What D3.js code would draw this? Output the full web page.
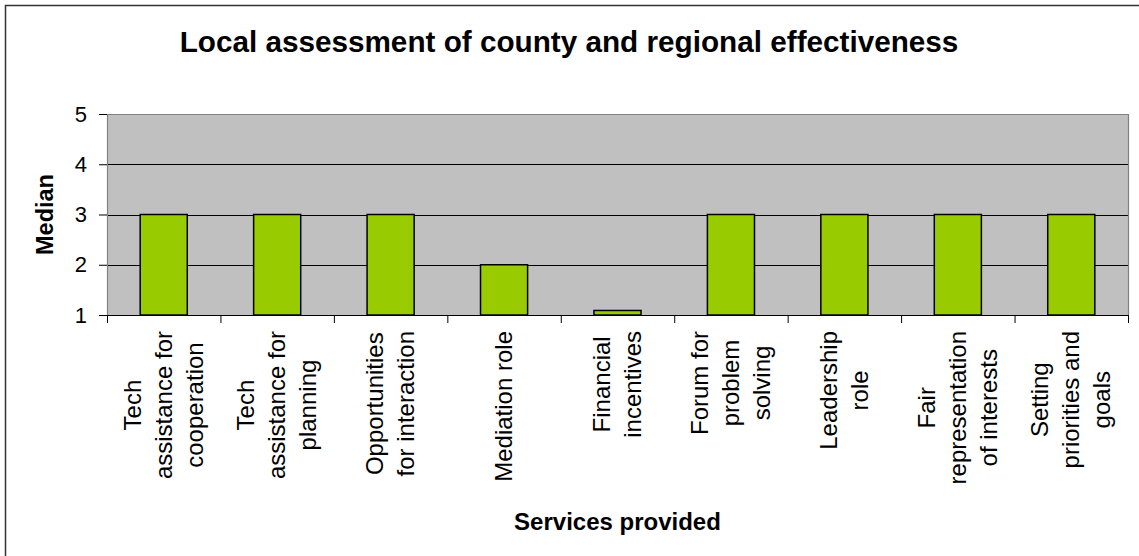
<!DOCTYPE html>
<html>
<head>
<meta charset="utf-8">
<script src="https://cdn.jsdelivr.net/npm/d3@7"></script>
<style>
  html, body { margin: 0; padding: 0; background: #fff; }
  svg { display: block; font-family: "Liberation Sans", Arial, sans-serif; }
</style>
</head>
<body>
<svg id="chart" width="1139" height="556"></svg>
<script>
// Services and their median effectiveness rating
const services = [
  ["Tech", "assistance for", "cooperation"],
  ["Tech", "assistance for", "planning"],
  ["Opportunities", "for interaction"],
  ["Mediation role"],
  ["Financial", "incentives"],
  ["Forum for", "problem", "solving"],
  ["Leadership", "role"],
  ["Fair", "representation", "of interests"],
  ["Setting", "priorities and", "goals"]
];
const medians = [3, 3, 3, 2, 1.09, 3, 3, 3, 3];
const yTicks = [1, 2, 3, 4, 5];

const titleText = "Local assessment of county and regional effectiveness";
const xTitle = "Services provided";
const yTitle = "Median";

const svg = d3.select("#chart");
const plot = { left: 107, right: 1128, top: 114, bottom: 315 };

// outer chart frame
svg.append("rect")
  .attr("x", 5.5).attr("y", 5.5)
  .attr("width", 1200).attr("height", 600)
  .attr("fill", "#fff")
  .attr("stroke", "#333").attr("stroke-width", 1.5);

const x = d3.scaleBand()
  .domain(d3.range(services.length))
  .range([plot.left, plot.right])
  .paddingInner(0.585).paddingOuter(0.2925);

const xBound = d3.scaleLinear()
  .domain([0, services.length])
  .range([plot.left, plot.right]);

const y = d3.scaleLinear().domain([1, 5]).range([plot.bottom, plot.top]);

// plot area background
svg.append("rect")
  .attr("x", plot.left).attr("y", plot.top)
  .attr("width", plot.right - plot.left).attr("height", plot.bottom - plot.top)
  .attr("fill", "#c0c0c0");

// horizontal gridlines
svg.append("g").selectAll("line")
  .data(yTicks.filter(v => v > 1 && v < 5))
  .join("line")
  .attr("x1", plot.left).attr("x2", plot.right)
  .attr("y1", d => Math.round(y(d)) + 0.5).attr("y2", d => Math.round(y(d)) + 0.5)
  .attr("stroke", "#000").attr("stroke-width", 1);

// top and right edges of the plot area
svg.append("path")
  .attr("d", `M${plot.left},${plot.top + 0.5}H${plot.right + 0.5}V${plot.bottom}`)
  .attr("fill", "none").attr("stroke", "#808080").attr("stroke-width", 1.2);

// bars
svg.append("g").selectAll("rect")
  .data(medians)
  .join("rect")
  .attr("x", (d, i) => x(i))
  .attr("width", x.bandwidth())
  .attr("y", d => y(d))
  .attr("height", d => y(1) - y(d))
  .attr("fill", "#99cc00")
  .attr("stroke", "#000").attr("stroke-width", 1.5);

// y axis
const yAxis = d3.axisLeft(y).tickValues(yTicks).tickFormat(d3.format("d"))
  .tickSizeInner(8).tickSizeOuter(0).tickPadding(12);
const gy = svg.append("g").attr("transform", `translate(${plot.left},0)`).call(yAxis);
gy.select(".domain").attr("stroke", "#808080").attr("stroke-width", 1.2);
gy.selectAll(".tick line").attr("stroke", "#000");
gy.selectAll(".tick text")
  .attr("font-size", 22).attr("fill", "#000")
  .attr("font-family", "Liberation Sans, Arial, sans-serif");

// x axis line with ticks at category boundaries
const xAxis = d3.axisBottom(xBound).tickValues(d3.range(services.length + 1))
  .tickFormat("").tickSizeInner(8).tickSizeOuter(0);
const gx = svg.append("g").attr("transform", `translate(0,${plot.bottom})`).call(xAxis);
gx.select(".domain").attr("stroke", "#000").attr("stroke-width", 1.2);
gx.selectAll(".tick line").attr("stroke", "#000");

// rotated category labels: block top-aligned below the axis, lines centred in the block
const labelTop = 331;
const lineGap = 31;
services.forEach((lines, i) => {
  const cx = x(i) + x.bandwidth() / 2;
  const g = svg.append("g");
  const texts = lines.map(s => g.append("text")
    .attr("font-size", 24).attr("fill", "#000")
    .attr("text-anchor", "middle")
    .text(s));
  const w = d3.max(texts, t => t.node().getComputedTextLength());
  const cy = labelTop + w / 2;
  const n = lines.length;
  texts.forEach((t, k) => {
    const lx = cx + (k - (n - 1) / 2) * lineGap + 8;
    t.attr("transform", `translate(${lx},${cy}) rotate(-90)`);
  });
});

// titles
svg.append("text")
  .attr("x", 569).attr("y", 52)
  .attr("text-anchor", "middle")
  .attr("font-size", 29.7).attr("font-weight", "bold")
  .text(titleText);

svg.append("text")
  .attr("x", (plot.left + plot.right) / 2).attr("y", 530)
  .attr("text-anchor", "middle")
  .attr("font-size", 24).attr("font-weight", "bold")
  .text(xTitle);

svg.append("text")
  .attr("transform", `translate(53,${(plot.top + plot.bottom) / 2}) rotate(-90)`)
  .attr("text-anchor", "middle")
  .attr("font-size", 23.5).attr("font-weight", "bold")
  .text(yTitle);
</script>
</body>
</html>
